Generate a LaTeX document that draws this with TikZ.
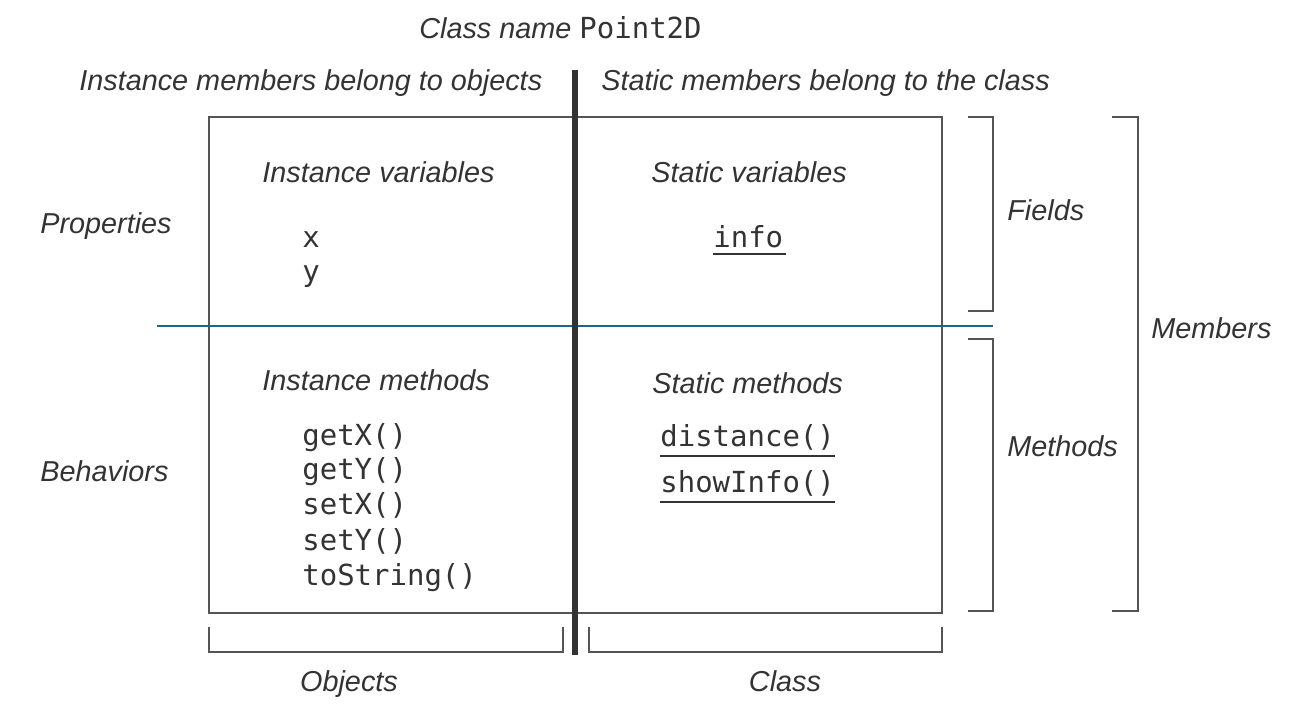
\documentclass[tikz,border=0pt]{standalone}
\usepackage{fontspec}
\setmainfont{Liberation Sans}
\newfontfamily\codefont{DejaVu Sans Mono}
\definecolor{txt}{HTML}{333333}
\definecolor{boxc}{HTML}{555555}
\definecolor{bluel}{HTML}{1F6680}
\tikzset{
  lbl/.style={anchor=base west, inner sep=0pt, text=txt, font=\fontsize{16.4}{20}\selectfont\itshape},
  lblc/.style={anchor=base, inner sep=0pt, text=txt, font=\fontsize{16.4}{20}\selectfont\itshape},
  code/.style={anchor=base west, inner sep=0pt, text=txt, font=\fontsize{16.5}{20}\selectfont\codefont},
  frame/.style={draw=boxc, line width=1.4pt},
  brk/.style={draw=boxc, line width=1.4pt},
}
\begin{document}
\begin{tikzpicture}[x=0.02cm, y=-0.02cm]
\useasboundingbox (0,0) rectangle (1289,717);
% frame
\draw[frame] (209,117) rectangle (942,613);
% blue separator
\coordinate (bl) at (157,326);
\coordinate (br) at (993,326);
\draw[bluel, line width=1.6pt] (bl) -- (br);
% thick divider
\coordinate (dt) at (575,70);
\coordinate (db) at (575,655);
\draw[txt, line width=3.9pt] (dt) -- (db);
% right brackets
\draw[brk] (968,117) -- (993,117) -- (993,311) -- (968,311);
\draw[brk] (968,339) -- (993,339) -- (993,611) -- (968,611);
\draw[brk] (1112,117) -- (1138,117) -- (1138,611) -- (1112,611);
% bottom brackets
\draw[brk] (209,627) -- (209,652) -- (563,652) -- (563,627);
\draw[brk] (589,627) -- (589,652) -- (942,652) -- (942,627);
% texts
\node[lbl] (cn) at (419,38) {Class name \upshape\codefont\fontsize{16.5}{20}\selectfont Point2D};
\node[lbl] (im) at (79,90) {Instance members belong to objects};
\node[lbl] (sm) at (601,90) {Static members belong to the class};
\node[lbl] (iv) at (262,182) {Instance variables};
\node[lbl] (sv) at (651,182) {Static variables};
\node[lbl] (pr) at (40,233) {Properties};
\node[lbl] (be) at (40,481) {Behaviors};
\node[lbl] (fi) at (1007,220) {Fields};
\node[lbl] (me) at (1151,338) {Members};
\node[lbl] (mt) at (1007,456) {Methods};
\node[lbl] (ime) at (262,390) {Instance methods};
\node[lbl] (sme) at (652,393) {Static methods};
\node[lblc] (ob) at (349,691) {Objects};
\node[lblc] (cl) at (785,691) {Class};
\node[code] (vx) at (302,247) {x};
\node[code] (vy) at (302,281) {y};
\node[code] (info) at (713,247) {info};
\draw[txt, line width=1.2pt] (info.base west) ++(0,7) -- ++(73,0);
\node[code] (m1) at (302,445) {getX()};
\node[code] (m2) at (302,479) {getY()};
\node[code] (m3) at (302,514) {setX()};
\node[code] (m4) at (302,550) {setY()};
\node[code] (m5) at (302,585) {toString()};
\node[code] (s1) at (660,446) {distance()};
\draw[txt, line width=1.2pt] (s1.base west) ++(0,10) -- ++(175,0);
\node[code] (s2) at (660,492) {showInfo()};
\draw[txt, line width=1.2pt] (s2.base west) ++(0,10) -- ++(175,0);
\end{tikzpicture}
\end{document}
